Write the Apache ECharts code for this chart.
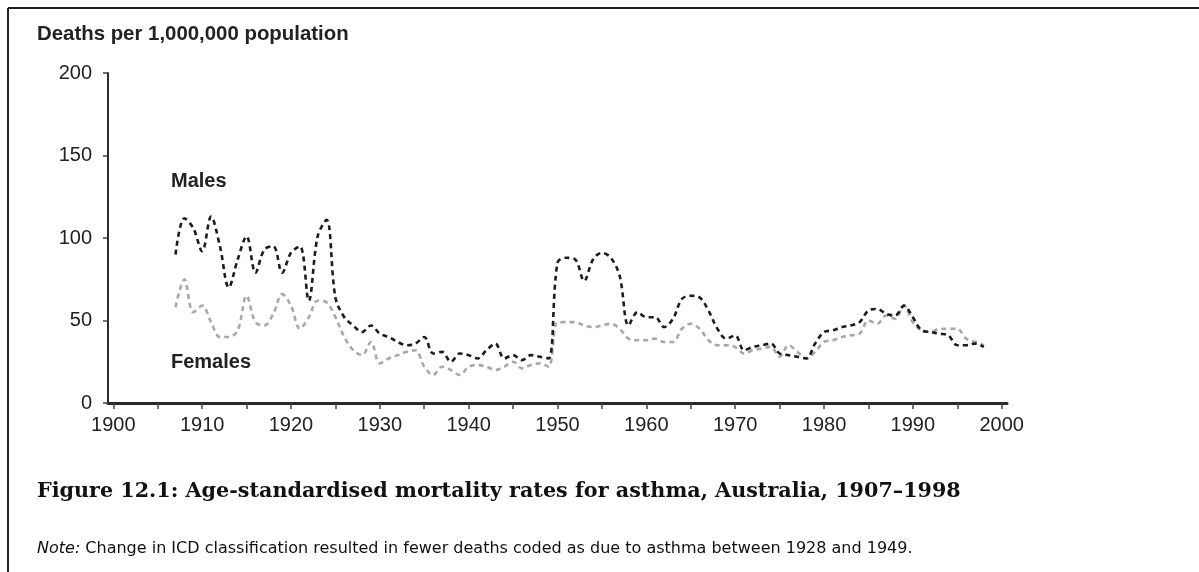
<!DOCTYPE html>
<html>
<head>
<meta charset="utf-8">
<script src="https://cdn.jsdelivr.net/npm/echarts@6/dist/echarts.min.js"></script>
<style>
html,body{margin:0;padding:0;background:#fff;}
#chart{width:1199px;height:572px;}
</style>
</head>
<body>
<div id="chart"></div>
<script>
const years = [];
for (let y = 1907; y <= 1998; y++) years.push(y);

const males = [90,112,106,92,113,95,70,87,101,79,93,95,79,91,95,62,101,111,64,52,
  47,43,47,42,40,37,35,36,40,30,31,25,30,29,27,32,36,27,29,26,29,28,27,
  85,88,87,74,87,91,88,77,47,55,52,52,46,51,63,65,64,56,45,39,41,
  32,34,35,36,30,29,28,27,36,43,44,46,47,49,56,57,54,53,59,52,44,43,42,41,35,35,36,34];

const females = [58,75,55,59,49,40,40,44,65,49,47,54,66,59,45,52,62,61,52,40,
  32,29,37,24,27,29,31,32,22,17,22,20,17,22,23,22,20,22,25,21,23,24,22,
  49,49,49,47,46,47,48,45,39,38,38,39,37,37,45,48,45,38,35,35,34,
  30,32,33,34,28,35,31,27,31,37,38,40,41,42,50,48,53,51,59,49,44,43,45,45,45,39,37,35];

const xLabelValues = [1900,1910,1920,1930,1940,1950,1960,1970,1980,1990,2000];
const xTickValues = [1900,1905,1910,1915,1920,1925,1930,1935,1940,1945,1950,1955,1960,1965,1970,1975,1980,1985,1990,1995,2000];

const yAxisTitle = 'Deaths per 1,000,000 population';
const maleLabel = 'Males';
const femaleLabel = 'Females';
const caption = 'Figure 12.1: Age-standardised mortality rates for asthma, Australia, 1907\u20131998';
const noteLead = 'Note:';
const noteText = ' Change in ICD classification resulted in fewer deaths coded as due to asthma between 1928 and 1949.';

const pair = (arr) => arr.map((v, i) => [years[i], v]);

const chart = echarts.init(document.getElementById('chart'), null, {renderer: 'canvas'});
const sans = '"Liberation Sans", Arial, sans-serif';

chart.setOption({
  animation: false,
  backgroundColor: '#fff',
  grid: {left: 108, right: 192, top: 73, bottom: 169, containLabel: false},
  xAxis: {
    type: 'value', min: 1899.4, max: 2000.6,
    axisLine: {show: true, lineStyle: {color: '#2a2a2a', width: 3}},
    axisTick: {show: true, customValues: xTickValues, length: 6, lineStyle: {color: '#444', width: 1.5}},
    axisLabel: {customValues: xLabelValues, formatter: (v) => String(v), fontFamily: sans, fontSize: 20, color: '#222', margin: 12},
    splitLine: {show: false}
  },
  yAxis: {
    type: 'value', min: 0, max: 200, interval: 50,
    axisLine: {show: true, lineStyle: {color: '#2a2a2a', width: 2}},
    axisTick: {show: true, length: 5, lineStyle: {color: '#444', width: 1.5}},
    axisLabel: {fontFamily: sans, fontSize: 20, color: '#222', margin: 16},
    splitLine: {show: false}
  },
  series: [
    {
      name: femaleLabel, type: 'line', data: pair(females), smooth: 0.35,
      showSymbol: false, z: 2,
      lineStyle: {color: '#a8a8a8', width: 2.6, type: [5, 4]}
    },
    {
      name: maleLabel, type: 'line', data: pair(males), smooth: 0.35,
      showSymbol: false, z: 3,
      lineStyle: {color: '#1c1c1c', width: 2.6, type: [5, 4]}
    }
  ],
  graphic: [
    {type: 'line', shape: {x1: 8, y1: 8, x2: 1199, y2: 8}, style: {stroke: '#222', lineWidth: 2}},
    {type: 'line', shape: {x1: 8, y1: 8, x2: 8, y2: 572}, style: {stroke: '#222', lineWidth: 2}},
    {type: 'text', left: 37, top: 24, style: {text: yAxisTitle, font: 'bold 20.4px ' + sans, fill: '#222'}},
    {type: 'text', left: 171, top: 171, style: {text: maleLabel, font: 'bold 20px ' + sans, fill: '#222'}},
    {type: 'text', left: 171, top: 352, style: {text: femaleLabel, font: 'bold 20px ' + sans, fill: '#222'}},
    {type: 'text', left: 37, top: 481, style: {text: caption, font: 'bold 20.7px "DejaVu Serif", "Liberation Serif", serif', fill: '#111'}},
    {type: 'text', left: 37, top: 541, style: {
      text: '{i|' + noteLead + '}{r|' + noteText + '}',
      rich: {
        i: {font: 'italic 16px "DejaVu Sans", ' + sans, fill: '#111'},
        r: {font: '16px "DejaVu Sans", ' + sans, fill: '#111'}
      }
    }}
  ]
});
</script>
</body>
</html>
